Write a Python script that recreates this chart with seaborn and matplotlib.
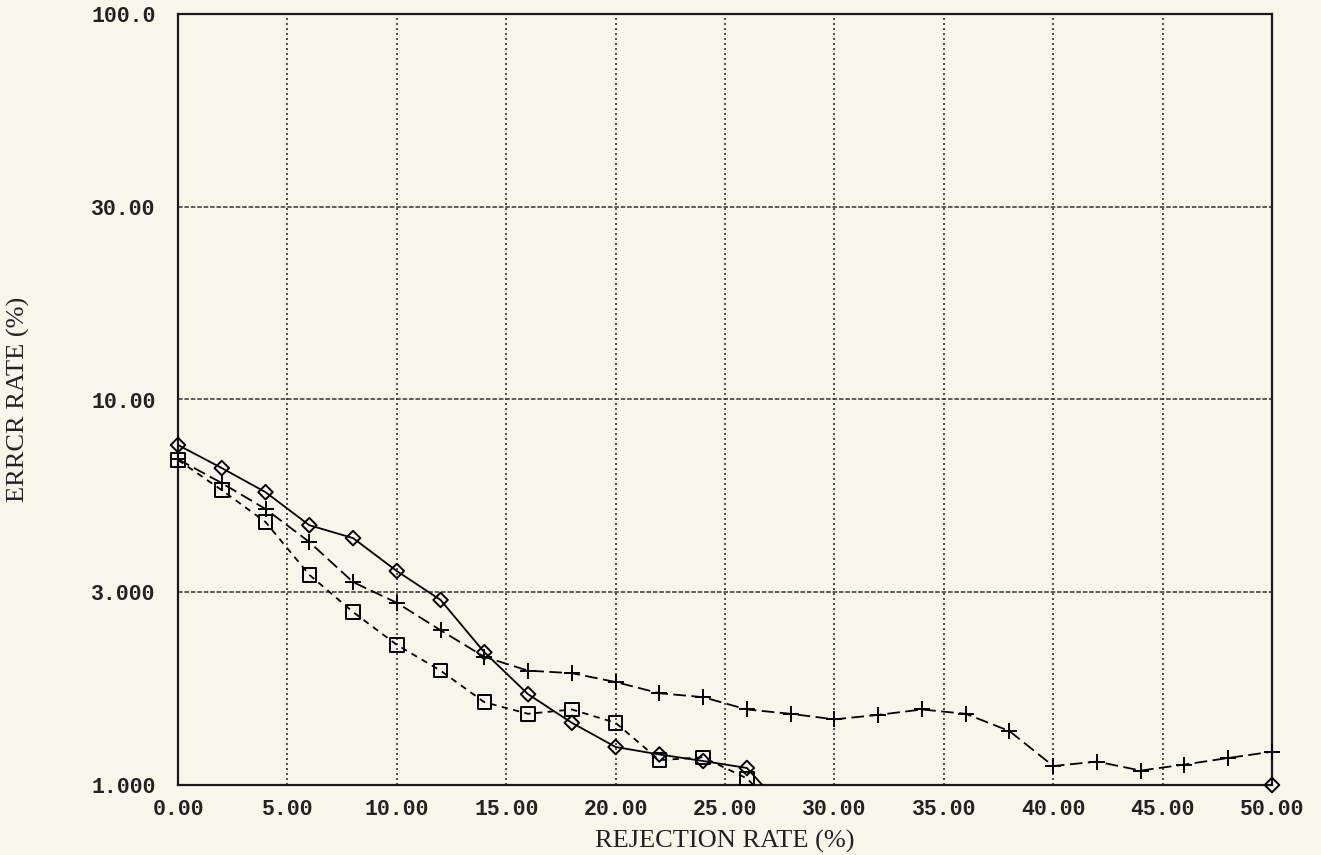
import matplotlib
matplotlib.use("Agg")
import matplotlib.pyplot as plt
import seaborn as sns
import numpy as np
import pandas as pd

# rejection rate (%) sampled every 2 %
rejection = [0, 2, 4, 6, 8, 10, 12, 14, 16, 18, 20, 22, 24, 26, 28, 30,
             32, 34, 36, 38, 40, 42, 44, 46, 48, 50]

# solid line, open diamonds (falls below the 1 % floor after 26 %)
err_diamond = [7.62, 6.64, 5.75, 4.72, 4.37, 3.59, 3.02, 2.21, 1.72, 1.45,
               1.255, 1.20, 1.154, 1.107, 0.83, 0.80, 0.78, 0.76, 0.74, 0.72,
               0.72, 0.74, 0.78, 0.85, 0.93, 1.0]
# long dashes, plus markers
err_plus = [7.0, 6.07, 5.20, 4.27, 3.36, 2.97, 2.52, 2.15, 1.98, 1.95,
            1.85, 1.73, 1.69, 1.57, 1.53, 1.48, 1.52, 1.57, 1.53, 1.38,
            1.12, 1.15, 1.09, 1.13, 1.175, 1.22]
# short dashes, open squares
err_square = [6.97, 5.82, 4.81, 3.51, 2.81, 2.31, 1.98, 1.64, 1.53, 1.57,
              1.45, 1.16, 1.18, 1.04, 0.80]

y_ticks = [1, 10 ** 0.5, 10, 10 ** 1.5, 100]
y_ticklabels = ["1.000", "3.000", "10.00", "30.00", "100.0"]
x_ticks = [0, 5, 10, 15, 20, 25, 30, 35, 40, 45, 50]
x_ticklabels = ["0.00", "5.00", "10.00", "15.00", "20.00", "25.00",
                "30.00", "35.00", "40.00", "45.00", "50.00"]

paper = "#f8f5ea"
sns.set_theme(style="white")
plt.rcParams["font.family"] = ["Liberation Mono", "DejaVu Sans"]

fig = plt.figure(figsize=(13.21, 8.55), dpi=100, facecolor=paper)
ax = fig.add_axes([178 / 1321, 1 - 785 / 855, 1094 / 1321, 771 / 855])
ax.set_facecolor(paper)

series = [
    (rejection, err_diamond, "-", "D", 55),
    (rejection, err_plus, (0, (7, 3)), "+", 140),
    (rejection[:len(err_square)], err_square, (0, (3.5, 3)), "s", 95),
]

for xs, ys, ls, mk, size in series:
    df = pd.DataFrame({"x": xs, "y": ys})
    sns.lineplot(data=df, x="x", y="y", ax=ax, color="black", linestyle=ls,
                 linewidth=1.3, errorbar=None, zorder=4)
    vis = df[df["y"] >= 1]
    if mk == "+":
        sns.scatterplot(data=vis, x="x", y="y", ax=ax, marker="+", s=size,
                        color="black", linewidth=1.4, clip_on=False, zorder=5)
    else:
        sns.scatterplot(data=vis, x="x", y="y", ax=ax, marker=mk, s=size,
                        facecolors="none", edgecolor="black", linewidth=1.4,
                        clip_on=False, zorder=5)

ax.set_yscale("log")
ax.set_xlim(0, 50)
ax.set_ylim(1, 100)
ax.set_xticks(x_ticks)
ax.set_xticklabels(x_ticklabels)
ax.set_yticks(y_ticks)
ax.set_yticklabels(y_ticklabels)
ax.yaxis.set_minor_locator(matplotlib.ticker.NullLocator())
ax.tick_params(axis="both", length=0, labelsize=15.5, colors="#222222")
ax.tick_params(axis="x", pad=10)
ax.tick_params(axis="y", pad=16)
for lab in ax.get_xticklabels() + ax.get_yticklabels():
    lab.set_fontweight("bold")

# grid: dotted verticals, dashed horizontals
for xv in x_ticks[1:-1]:
    ax.axvline(xv, color="#333333", linestyle=(0, (1.2, 1.8)), linewidth=1.2, zorder=1)
for yv in y_ticks[1:-1]:
    ax.axhline(yv, color="#333333", linestyle=(0, (3, 1.2)), linewidth=1.1, zorder=1)

for side in ax.spines.values():
    side.set_color("#1a1a1a")
    side.set_linewidth(1.6)

ax.set_xlabel("REJECTION RATE (%)", family=["Liberation Serif"], fontsize=19,
              color="#222222")
ax.set_ylabel("ERRCR RATE (%)", family=["Liberation Serif"], fontsize=19,
              color="#222222")
ax.xaxis.set_label_coords(0.5, -0.058)
ax.yaxis.set_label_coords(-0.135, 0.5)

fig.savefig("out.png", dpi=100, facecolor=paper)
